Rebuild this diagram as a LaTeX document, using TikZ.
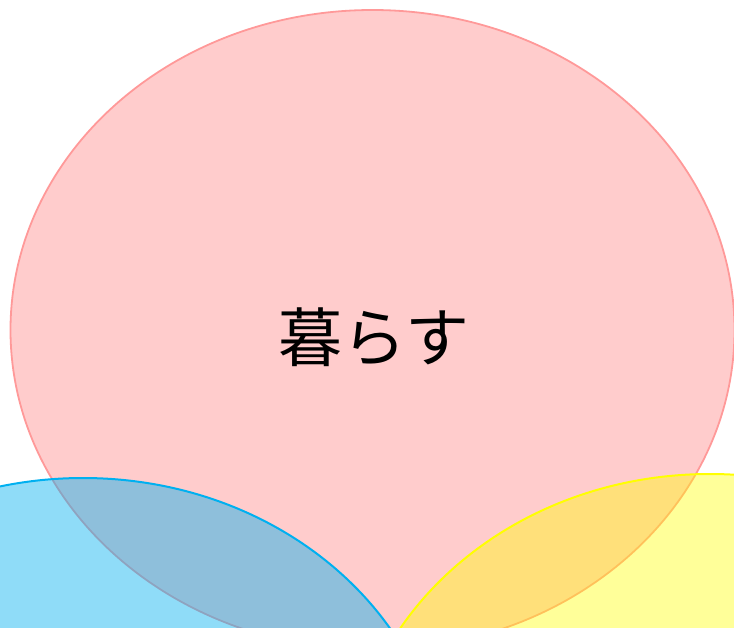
\documentclass[tikz,border=0pt]{standalone}
\usepackage{fontspec}
\newfontfamily\cjk{Noto Sans CJK JP}
\definecolor{pinkline}{HTML}{FF9999}
\definecolor{pinkfill}{HTML}{FF9999}
\definecolor{blueline}{HTML}{00B0F0}
\definecolor{yellowline}{HTML}{FFFF00}
\tikzset{
  venn/.style={line width=2pt},
}
\begin{document}
\begin{tikzpicture}[x=1pt,y=-1pt]
\useasboundingbox (0,0) rectangle (734,627);
\begin{scope}
\clip (0,0) rectangle (734,627);
\fill[pinkfill,fill opacity=0.5] (372.5,330) ellipse [x radius=362, y radius=320];
\draw[pinkline,line width=1.8pt] (372.5,330) ellipse [x radius=362, y radius=320];
\fill[blueline,fill opacity=0.44] (83,798) ellipse [x radius=362, y radius=320];
\draw[blueline,venn] (83,798) ellipse [x radius=362, y radius=320];
\fill[yellowline,fill opacity=0.4] (710,794) ellipse [x radius=362, y radius=320];
\draw[yellowline,venn] (710,794) ellipse [x radius=362, y radius=320];
\end{scope}
\node[font=\cjk\fontsize{64}{72}\selectfont, inner sep=0pt] (t) at (374,337) {暮らす};
\end{tikzpicture}
\end{document}
